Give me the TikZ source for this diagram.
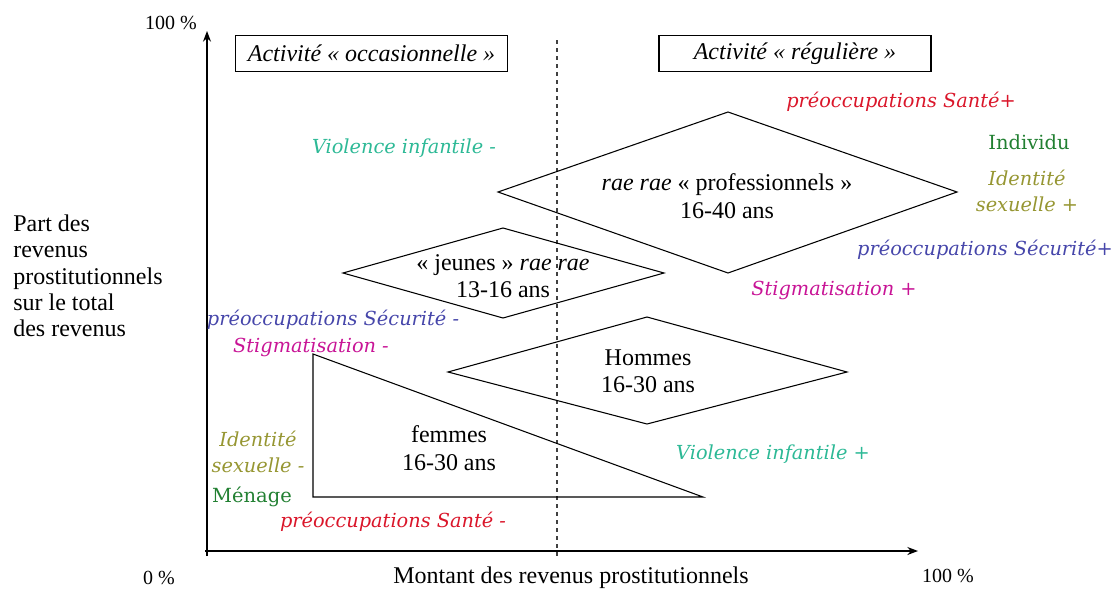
\documentclass[tikz,border=0pt]{standalone}
\usepackage{fontspec}
\setmainfont{Liberation Serif}
\newfontfamily\etiq{DejaVu Serif}
\usetikzlibrary{arrows.meta}
\definecolor{rouge}{RGB}{218,22,42}
\definecolor{vert}{RGB}{34,128,50}
\definecolor{olive}{RGB}{150,150,50}
\definecolor{bleu}{RGB}{70,70,170}
\definecolor{magenta}{RGB}{200,20,150}
\definecolor{turquoise}{RGB}{45,185,150}
\tikzset{
 txt/.style={font=\fontsize{18}{20.5}\selectfont,align=center,inner sep=0pt},
 pct/.style={font=\fontsize{15}{18}\selectfont,inner sep=0pt},
 cadre/.style={draw,line width=0.8pt,font=\fontsize{18}{20.5}\selectfont\itshape,minimum width=204pt,minimum height=27.5pt,inner sep=0pt},
 groupe/.style={line width=0.8pt},
 facteur/.style={font=\etiq\itshape\fontsize{14.5}{19.5}\selectfont,align=center,inner sep=0pt},
 niveau/.style={font=\etiq\fontsize{14.6}{19.5}\selectfont,text=vert,inner sep=0pt}
}
\begin{document}
\begin{tikzpicture}[x=0.75pt,y=-0.75pt]
 \useasboundingbox (0,0) rectangle (1112,589);
 \coordinate (O) at (207,551); %origine
 \draw[->,>={Stealth[length=8pt,width=6pt]},line width=1pt] (207,556)--(207,31) coordinate (ytop); %axe des parts
 \draw[->,>={Stealth[length=8pt,width=6pt]},line width=1pt] (205,551)--(918,551) coordinate (xend); %axe des montants
 \draw[dashed,line width=0.8pt,black!75] (557,40)--(557,556); %limite occasionnelle / reguliere
 \node[pct] (h100) at (171,23) {100 \%};
 \node[pct] (o0) at (159,578) {0 \%};
 \node[pct] (d100) at (948,576) {100 \%};
 \node[txt] (montant) at (571,578) {Montant des revenus prostitutionnels};
 \node[txt,align=left,anchor=west,font=\fontsize{18}{19.7}\selectfont] (part) at (13,276) {Part des\\revenus\\prostitutionnels\\sur le total\\des revenus};
 \node[cadre] (occ) at (371.5,53.5) {Activité « occasionnelle »};
 \node[cadre] (reg) at (795,53.5) {Activité « régulière »};
 % les quatre groupes
 \draw[groupe] (498,192)--(728,112)--(957,192)--(728,273)--cycle; %professionnels
 \node[txt] (pro) at (727,196) {\textit{rae rae} « professionnels »\\16-40 ans};
 \draw[groupe] (343,273)--(503,228)--(664,273)--(503,318)--cycle; %jeunes
 \node[txt] (jeu) at (503,276) {« jeunes » \textit{rae rae}\\13-16 ans};
 \draw[groupe] (448,372)--(647,317)--(847,372)--(647,424)--cycle; %hommes
 \node[txt] (hom) at (648,371) {Hommes\\16-30 ans};
 \draw[groupe] (313,354)--(313,497)--(703,497)--cycle; %femmes
 \node[txt] (fem) at (449,448) {femmes\\16-30 ans};
 % facteurs cote regulier
 \node[facteur,text=rouge] (santeP) at (901,102) {préoccupations Santé+};
 \node[niveau] (indiv) at (1029,142) {Individu};
 \node[facteur,text=olive] (identP) at (1027,191) {Identité\\sexuelle +};
 \node[facteur,text=bleu] (secuP) at (985,250) {préoccupations Sécurité+};
 \node[facteur,text=magenta] (stigP) at (834,290) {Stigmatisation +};
 \node[facteur,text=turquoise] (violP) at (773,454) {Violence infantile +};
 % facteurs cote occasionnel
 \node[facteur,text=turquoise] (violM) at (404,148) {Violence infantile -};
 \node[facteur,text=bleu] (secuM) at (333,320) {préoccupations Sécurité -};
 \node[facteur,text=magenta] (stigM) at (311,347) {Stigmatisation -};
 \node[facteur,text=olive] (identM) at (258,452) {Identité\\sexuelle -};
 \node[niveau] (menage) at (252,497) {Ménage};
 \node[facteur,text=rouge] (santeM) at (393,522) {préoccupations Santé -};
\end{tikzpicture}
\end{document}
